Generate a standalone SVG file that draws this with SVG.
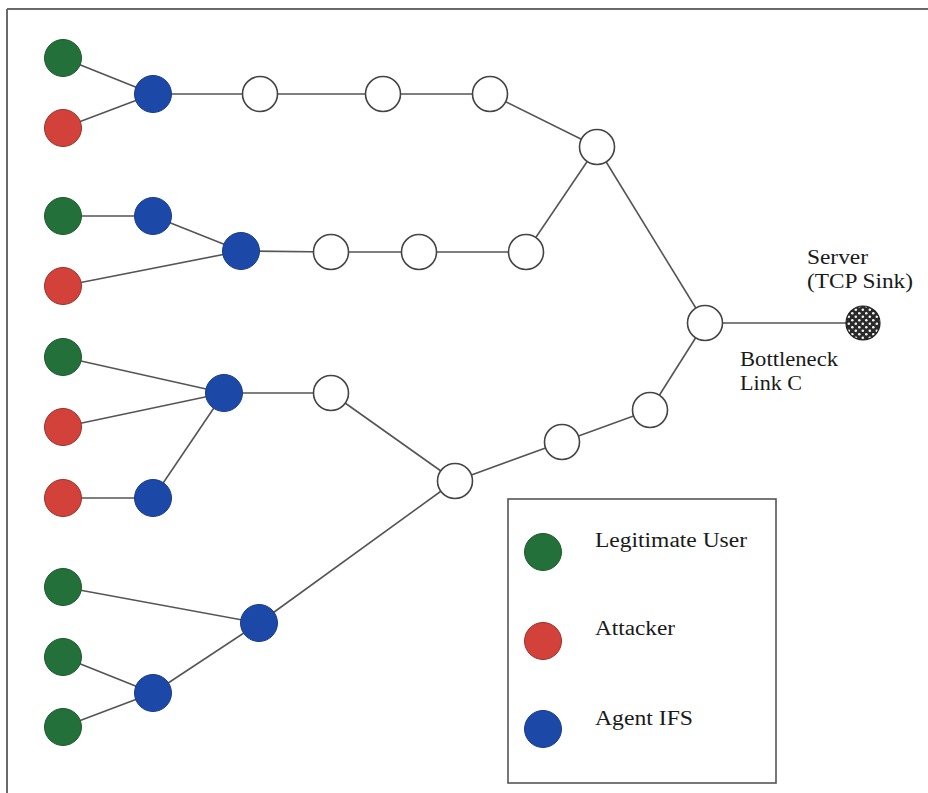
<svg xmlns="http://www.w3.org/2000/svg" width="928" height="793" viewBox="0 0 928 793">
  <style>
    .frame { stroke: #6a6a6a; stroke-width: 2; fill: none; }
    .link { stroke: #555; stroke-width: 1.6; fill: none; }
    .user { fill: #23703a; stroke: #1d5a2f; stroke-width: 1; }
    .attacker { fill: #d2423a; stroke: #9e3029; stroke-width: 1; }
    .agent { fill: #1c48a8; stroke: #173c8c; stroke-width: 1; }
    .router { fill: #fff; stroke: #444; stroke-width: 1.6; }
    .label { font-family: "Liberation Serif", "Times New Roman", serif; font-size: 20px; fill: #1a1a1a; }
    .legend { fill: #fff; stroke: #555; stroke-width: 1.6; }
  </style>
  <defs>
    <pattern id="dots" x="0" y="0" width="7" height="7" patternUnits="userSpaceOnUse">
      <rect width="7" height="7" fill="#2a2a2a"/>
      <circle cx="1.8" cy="1.8" r="1.3" fill="#f4f4f4"/>
      <circle cx="5.3" cy="5.3" r="1.3" fill="#f4f4f4"/>
    </pattern>
  </defs>

  <rect width="928" height="793" fill="#fff"/>
  <!-- open frame: top and left edges -->
  <path class="frame" d="M7,9 H928 M7,9 V793"/>

  <!-- connectors -->
  <g id="links" class="link">
    <line x1="63" y1="58" x2="153" y2="94"/>
    <line x1="63" y1="128" x2="153" y2="94"/>
    <line x1="153" y1="94" x2="260" y2="94"/>
    <line x1="260" y1="94" x2="383" y2="94"/>
    <line x1="383" y1="94" x2="490" y2="94"/>
    <line x1="490" y1="94" x2="597" y2="147"/>

    <line x1="63" y1="216" x2="153" y2="216"/>
    <line x1="153" y1="216" x2="241" y2="251"/>
    <line x1="63" y1="286" x2="241" y2="251"/>
    <line x1="241" y1="251" x2="331" y2="252"/>
    <line x1="331" y1="252" x2="419" y2="252"/>
    <line x1="419" y1="252" x2="526" y2="252"/>
    <line x1="526" y1="252" x2="597" y2="147"/>

    <line x1="597" y1="147" x2="705" y2="323"/>

    <line x1="63" y1="357" x2="224" y2="393"/>
    <line x1="63" y1="427" x2="224" y2="393"/>
    <line x1="63" y1="498" x2="153" y2="498"/>
    <line x1="153" y1="498" x2="224" y2="393"/>
    <line x1="224" y1="393" x2="331" y2="393"/>
    <line x1="331" y1="393" x2="455" y2="481"/>

    <line x1="63" y1="587" x2="259" y2="623"/>
    <line x1="63" y1="657" x2="153" y2="693"/>
    <line x1="63" y1="727" x2="153" y2="693"/>
    <line x1="153" y1="693" x2="259" y2="623"/>
    <line x1="259" y1="623" x2="455" y2="481"/>

    <line x1="455" y1="481" x2="562" y2="442"/>
    <line x1="562" y1="442" x2="650" y2="410"/>
    <line x1="650" y1="410" x2="705" y2="323"/>

    <line x1="705" y1="323" x2="863" y2="323"/>
  </g>

  <!-- hosts -->
  <g id="user1"><circle class="user" cx="63" cy="58" r="18.5"/></g>
  <g id="attacker1"><circle class="attacker" cx="63" cy="128" r="18.5"/></g>
  <g id="user2"><circle class="user" cx="63" cy="216" r="18.5"/></g>
  <g id="attacker2"><circle class="attacker" cx="63" cy="286" r="18.5"/></g>
  <g id="user3"><circle class="user" cx="63" cy="357" r="18.5"/></g>
  <g id="attacker3"><circle class="attacker" cx="63" cy="427" r="18.5"/></g>
  <g id="attacker4"><circle class="attacker" cx="63" cy="498" r="18.5"/></g>
  <g id="user4"><circle class="user" cx="63" cy="587" r="18.5"/></g>
  <g id="user5"><circle class="user" cx="63" cy="657" r="18.5"/></g>
  <g id="user6"><circle class="user" cx="63" cy="727" r="18.5"/></g>

  <!-- IFS agents -->
  <g id="agent1"><circle class="agent" cx="153" cy="94" r="18.5"/></g>
  <g id="agent2"><circle class="agent" cx="153" cy="216" r="18.5"/></g>
  <g id="agent3"><circle class="agent" cx="241" cy="251" r="18.5"/></g>
  <g id="agent4"><circle class="agent" cx="224" cy="393" r="18.5"/></g>
  <g id="agent5"><circle class="agent" cx="153" cy="498" r="18.5"/></g>
  <g id="agent6"><circle class="agent" cx="259" cy="623" r="18.5"/></g>
  <g id="agent7"><circle class="agent" cx="153" cy="693" r="18.5"/></g>

  <!-- routers -->
  <g id="r1"><circle class="router" cx="260" cy="94" r="17.5"/></g>
  <g id="r2"><circle class="router" cx="383" cy="94" r="17.5"/></g>
  <g id="r3"><circle class="router" cx="490" cy="94" r="17.5"/></g>
  <g id="r4"><circle class="router" cx="597" cy="147" r="17.5"/></g>
  <g id="r5"><circle class="router" cx="331" cy="252" r="17.5"/></g>
  <g id="r6"><circle class="router" cx="419" cy="252" r="17.5"/></g>
  <g id="r7"><circle class="router" cx="526" cy="252" r="17.5"/></g>
  <g id="r8"><circle class="router" cx="331" cy="393" r="17.5"/></g>
  <g id="r9"><circle class="router" cx="455" cy="481" r="17.5"/></g>
  <g id="r10"><circle class="router" cx="562" cy="442" r="17.5"/></g>
  <g id="r11"><circle class="router" cx="650" cy="410" r="17.5"/></g>
  <g id="bottleneck">
    <circle class="router" cx="705" cy="323" r="17.5"/>
    <text class="label" x="740" y="366" textLength="98" lengthAdjust="spacingAndGlyphs">Bottleneck</text>
    <text class="label" x="740" y="390" textLength="62" lengthAdjust="spacingAndGlyphs">Link C</text>
  </g>

  <!-- server / TCP sink -->
  <g id="server">
    <circle cx="863" cy="323" r="17" fill="url(#dots)" stroke="#222" stroke-width="1.2"/>
    <text class="label" x="807" y="264" textLength="61" lengthAdjust="spacingAndGlyphs">Server</text>
    <text class="label" x="807" y="288" textLength="106" lengthAdjust="spacingAndGlyphs">(TCP Sink)</text>
  </g>

  <!-- legend -->
  <g id="legend">
    <rect class="legend" x="508" y="499" width="268" height="284"/>
    <circle class="user" cx="543" cy="552" r="18.5"/>
    <circle class="attacker" cx="543" cy="641" r="18.5"/>
    <circle class="agent" cx="543" cy="729" r="18.5"/>
    <text class="label" x="595" y="547" textLength="152" lengthAdjust="spacingAndGlyphs">Legitimate User</text>
    <text class="label" x="595" y="635" textLength="80" lengthAdjust="spacingAndGlyphs">Attacker</text>
    <text class="label" x="595" y="725" textLength="98" lengthAdjust="spacingAndGlyphs">Agent IFS</text>
  </g>
</svg>
